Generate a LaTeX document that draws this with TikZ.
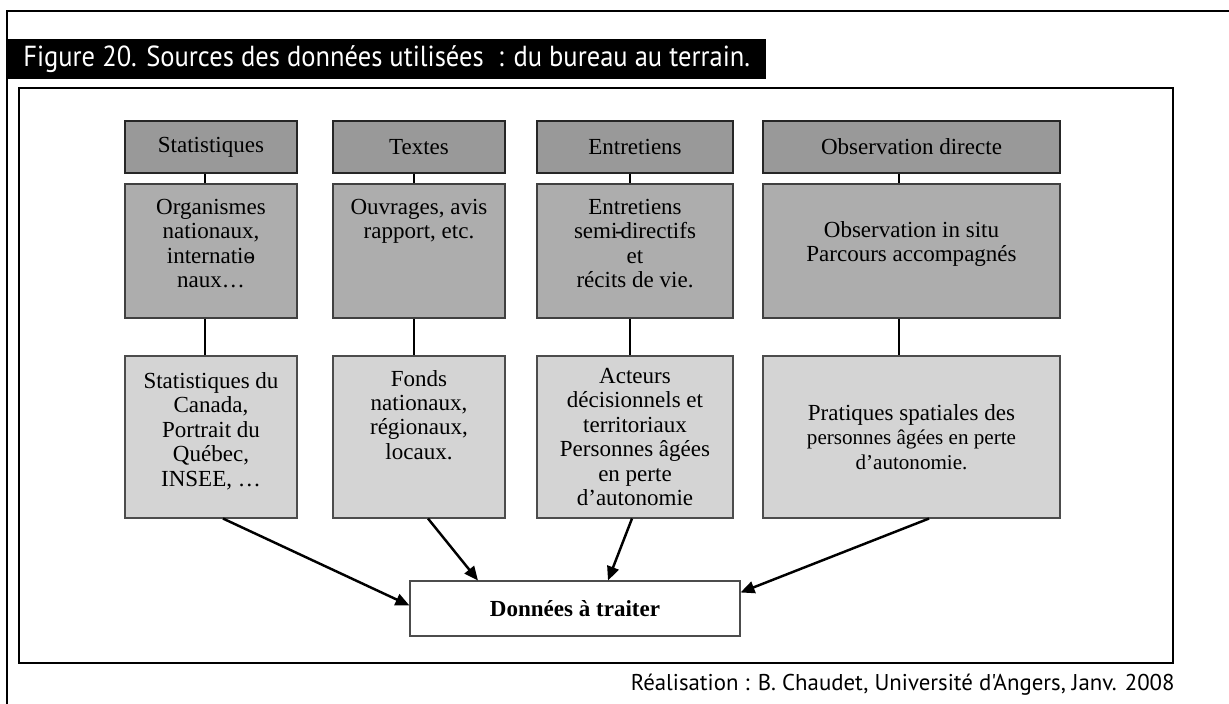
\documentclass[tikz,border=0pt]{standalone}
\usepackage{fontspec}
\setmainfont{Liberation Serif}
\newfontfamily\titlefont{PT Sans}
\usetikzlibrary{arrows.meta}

\definecolor{hdrgray}{gray}{0.60}
\definecolor{midgray}{gray}{0.68}
\definecolor{lowgray}{gray}{0.83}
\newcommand{\boxfont}{\fontsize{13.1}{13.9}\selectfont}
\newcommand{\smallboxfont}{\fontsize{12}{13.9}\selectfont}

\begin{document}
\begin{tikzpicture}[
    hdr/.style={draw=black!85, fill=hdrgray, line width=0.6pt, inner sep=0pt, minimum height=1.04cm, align=center, font=\boxfont},
    mid/.style={draw=black!75, fill=midgray, line width=0.6pt, inner sep=0pt, minimum height=2.68cm, align=center, font=\boxfont},
    low/.style={draw=black!70, fill=lowgray, line width=0.6pt, inner sep=0pt, minimum height=3.24cm, align=center, font=\boxfont},
    link/.style={draw=black, line width=0.6pt},
    arr/.style={-{Triangle[length=0.28cm, width=0.24cm]}, line width=1.4pt}
]
    \useasboundingbox (0,0) rectangle (24.58,-14.08);

    % frames
    \draw[line width=1.1pt] (0.14,-14.08) -- (0.14,-0.22) -- (24.58,-0.22);
    \draw[line width=1.2pt] (0.38,-1.76) rectangle (23.46,-13.26);

    \node[fill=black, text=white, anchor=west, inner xsep=0.32cm, inner ysep=0pt, minimum height=0.8cm,
        font=\titlefont\addfontfeatures{FakeStretch=0.915}\fontsize{16.5}{18}\selectfont] (title) at (0.14,-1.18)
        {Figure 20. Sources des données utilisées\enspace: du bureau au terrain.};

    % column headers
    \node[hdr, minimum width=3.44cm] (h1) at (4.22,-2.94) {Statistiques};
    \node[hdr, minimum width=3.44cm] (h2) at (8.38,-2.94) {Textes};
    \node[hdr, minimum width=3.92cm] (h3) at (12.70,-2.94) {Entretiens};
    \node[hdr, minimum width=5.94cm] (h4) at (18.23,-2.94) {Observation directe};

    % sources
    \node[mid, minimum width=3.44cm] (m1) at (4.22,-5.02) {
        Organismes\\
        nationaux,\\
        internatio\llap{-\kern0.06em}\\
        naux…\\[-5pt]
        ~
    };
    \node[mid, minimum width=3.44cm] (m2) at (8.38,-5.02) {
        Ouvrages, avis\\
        rapport, etc.\\
        ~\\ ~\\[-5pt] ~
    };
    \node[mid, minimum width=3.92cm] (m3) at (12.70,-5.02) {
        Entretiens\\
        semi\kern-0.1em-\kern-0.1em directifs\\
        et\\
        récits de vie.\\[-5pt]
        ~
    };
    \node[mid, minimum width=5.94cm] (m4) at (18.23,-5.02) {
        Observation in situ\\
        Parcours accompagnés\\[-3pt]
        ~
    };

    % details
    \node[low, minimum width=3.44cm] (l1) at (4.22,-8.74) {
        Statistiques du\\
        Canada,\\
        Portrait du\\
        Québec,\\
        INSEE, …\\[-5pt]
        ~
    };
    \node[low, minimum width=3.44cm] (l2) at (8.38,-8.74) {
        Fonds\\
        nationaux,\\
        régionaux,\\
        locaux.\\
        ~\\[-2.5pt] ~
    };
    \node[low, minimum width=3.92cm] (l3) at (12.70,-8.74) {
        Acteurs\\
        décisionnels et\\
        territoriaux\\
        Personnes âgées\\
        en perte\\
        d’autonomie
    };
    \node[low, minimum width=5.94cm] (l4) at (18.23,-8.74) {
        Pratiques spatiales des\\
        {\smallboxfont personnes âgées en perte}\\
        {\smallboxfont d’autonomie.}
    };

    \node[draw=black!70, line width=0.6pt, fill=white, minimum width=6.6cm, minimum height=1.1cm,
        font=\boxfont\bfseries] (res) at (11.5,-12.17) {Données à traiter};

    % links between levels
    \foreach \c/\s in {1/-0.12, 2/-0.10, 3/-0.10, 4/-0.25} {
        \draw[link] ([xshift=\s cm]h\c.south) -- ([xshift=\s cm]m\c.north);
        \draw[link] ([xshift=\s cm]m\c.south) -- ([xshift=\s cm]l\c.north);
    }

    \draw[arr] ([xshift=0.24cm]l1.south) -- ([yshift=0.06cm]res.west);
    \draw[arr] ([xshift=0.18cm]l2.south) -- ([xshift=-1.94cm]res.north);
    \draw[arr] ([xshift=-0.06cm]l3.south) -- ([xshift=0.66cm]res.north);
    \draw[arr] ([xshift=0.35cm]l4.south) -- ([yshift=-0.24cm]res.north east);

    \node[anchor=base east, inner sep=0pt, font=\titlefont\fontsize{13}{14}\selectfont] (credit) at (23.5,-13.8)
        {Réalisation : B. Chaudet, Université d'Angers, Janv. 2008};
\end{tikzpicture}
\end{document}
